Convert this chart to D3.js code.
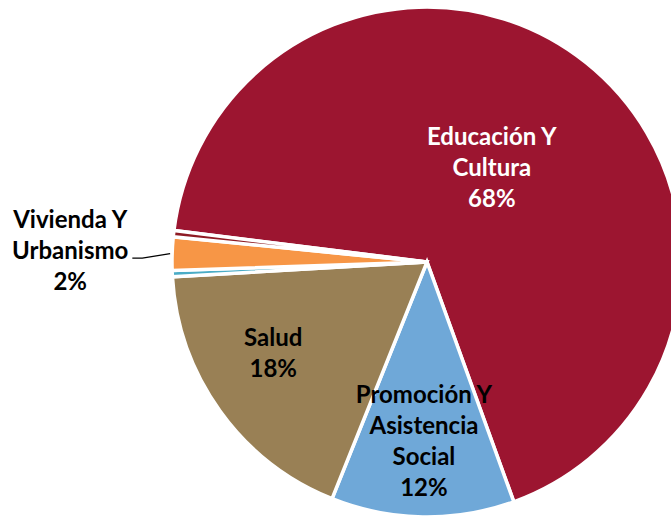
<!DOCTYPE html>
<html>
<head>
<meta charset="utf-8">
<script src="https://cdn.jsdelivr.net/npm/d3@7"></script>
<style>
  html, body { margin: 0; padding: 0; background: #fff; }
  svg { display: block; }
</style>
</head>
<body>
<script>
// data (share of spending, %)
const categories = ["Educación Y\nCultura", "Promoción Y\nAsistencia\nSocial", "Salud", "Otros", "Vivienda Y\nUrbanismo", "Sin clasificar"];
const values = [67.5, 11.6, 18.0, 0.4, 2.1, 0.4];
const showLabel = [true, true, true, false, true, false];
const colors = ["#9c1530", "#6fa8d8", "#998055", "#4bacc6", "#f79646", "#8e1b24"];

const width = 671, height = 518;
const cx = 427, cy = 262, R = 255;
const fontFamily = "Lato, 'Open Sans', sans-serif";
const fontSize = 24, lineH = 31;

// label placement: radius factor + angle nudge (deg) from the slice middle
const labelLayout = [
  { rf: 0.45, da: -4.2, fill: "#fff" },
  { rf: 0.70, da: 0, fill: "#000" },
  { rf: 0.70, da: 5.2, fill: "#000" },
  null,
  { rf: 1.40, da: 0, fill: "#000", leader: true },
  null
];

const data = categories.map((c, i) => ({ name: c, value: values[i], color: colors[i], i }));
const total = d3.sum(values);

const start = -82.9 * Math.PI / 180;
const pie = d3.pie().sort(null).value(d => d.value)
  .startAngle(start).endAngle(start + 2 * Math.PI);
const arc = d3.arc().innerRadius(0).outerRadius(R);
const arcs = pie(data);

const svg = d3.select("body").append("svg")
  .attr("width", width).attr("height", height);

const g = svg.append("g").attr("transform", `translate(${cx},${cy})`);

g.selectAll("path.slice")
  .data(arcs)
  .enter().append("path")
    .attr("class", "slice")
    .attr("d", arc)
    .attr("fill", d => d.data.color)
    .attr("stroke", "#fff")
    .attr("stroke-width", 3.5)
    .attr("stroke-linejoin", "miter");

const polar = (a, r) => [r * Math.sin(a), -r * Math.cos(a)];

arcs.forEach(d => {
  const i = d.data.i;
  if (!showLabel[i]) return;
  const lay = labelLayout[i];
  const mid = (d.startAngle + d.endAngle) / 2;
  const [lx, ly] = polar(mid + lay.da * Math.PI / 180, lay.rf * R);
  const lines = d.data.name.split("\n").concat(`${Math.round(d.data.value / total * 100)}%`);
  const firstBase = ly - (lines.length - 1) / 2 * lineH + 0.37 * fontSize;

  const t = g.append("text")
    .attr("text-anchor", "middle")
    .attr("font-family", fontFamily)
    .attr("font-weight", "bold")
    .attr("font-size", fontSize)
    .attr("fill", lay.fill);
  lines.forEach((s, k) => {
    t.append("tspan").attr("x", lx).attr("y", firstBase + k * lineH).text(s);
  });

  if (lay.leader) {
    const bb = t.node().getBBox();
    const [ex, ey] = polar(mid, R);
    const y0 = firstBase + lineH - 1;
    const x0 = bb.x + bb.width + 4;
    g.append("polyline")
      .attr("points", [[x0, y0], [x0 + 10, y0], [ex - 2, ey]].map(p => p.join(",")).join(" "))
      .attr("fill", "none")
      .attr("stroke", "#000")
      .attr("stroke-width", 1.3);
  }
});
</script>
</body>
</html>
